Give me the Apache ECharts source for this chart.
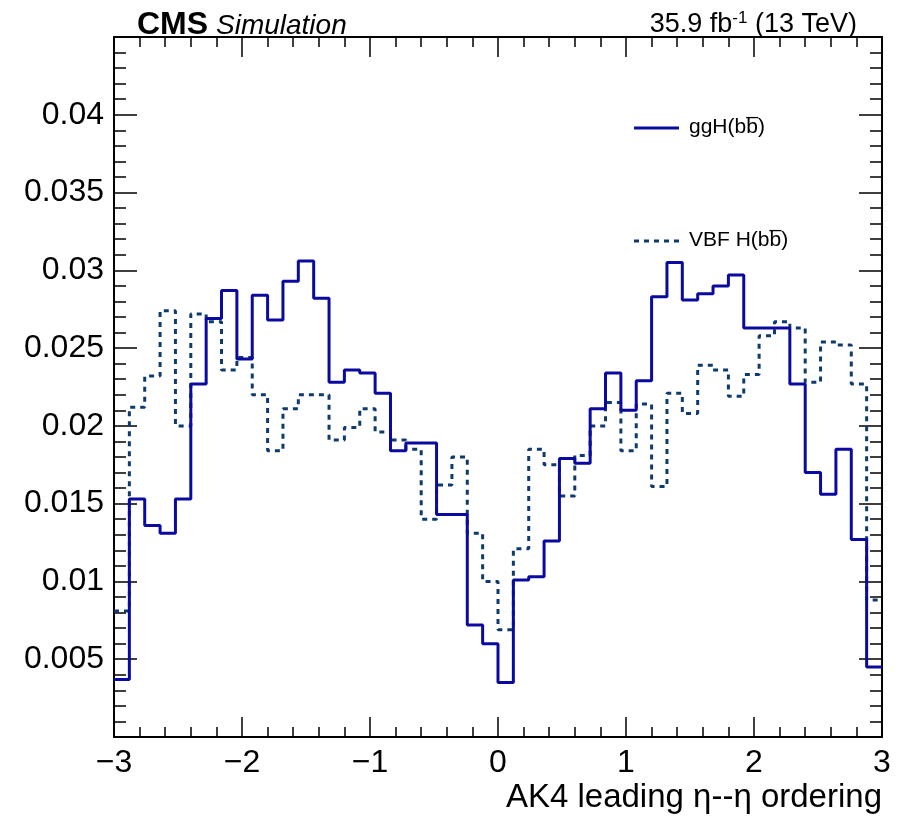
<!DOCTYPE html>
<html>
<head>
<meta charset="utf-8">
<script src="https://cdn.jsdelivr.net/npm/echarts@6/dist/echarts.min.js"></script>
<style>
html,body{margin:0;padding:0;background:#fff;}
#chart{width:902px;height:817px;}
</style>
</head>
<body>
<div id="chart"></div>
<script>
// Bin edges (51 edges, 50 bins)
var binEdges = [-3.00,-2.88,-2.76,-2.64,-2.52,-2.40,-2.28,-2.16,-2.04,-1.92,
  -1.80,-1.68,-1.56,-1.44,-1.32,-1.20,-1.08,-0.96,-0.84,-0.72,
  -0.60,-0.48,-0.36,-0.24,-0.12,0.00,0.12,0.24,0.36,0.48,
  0.60,0.72,0.84,0.96,1.08,1.20,1.32,1.44,1.56,1.68,
  1.80,1.92,2.04,2.16,2.28,2.40,2.52,2.64,2.76,2.88,3.00];

var ggH = [0.0037,0.0153,0.0136,0.0131,0.0153,0.0227,0.0269,0.0287,0.0243,0.0284,
  0.0268,0.0293,0.0306,0.0282,0.0228,0.0236,0.0234,0.0221,0.0184,0.0189,
  0.0189,0.0143,0.0143,0.0072,0.0060,0.0035,0.0101,0.0103,0.0126,0.0179,
  0.0176,0.0211,0.0234,0.0210,0.0229,0.0283,0.0305,0.0281,0.0285,0.0290,
  0.0297,0.0263,0.0263,0.0263,0.0227,0.0170,0.0156,0.0185,0.0127,0.0045];

var vbf = [0.0081,0.0212,0.0232,0.0274,0.0200,0.0272,0.0267,0.0236,0.0244,0.0220,
  0.0184,0.0211,0.0220,0.0220,0.0191,0.0199,0.0211,0.0196,0.0191,0.0185,
  0.0140,0.0162,0.0180,0.0131,0.0100,0.0069,0.0121,0.0185,0.0175,0.0155,
  0.0181,0.0200,0.0215,0.0184,0.0214,0.0161,0.0221,0.0208,0.0239,0.0236,
  0.0219,0.0233,0.0258,0.0267,0.0263,0.0228,0.0254,0.0252,0.0227,0.0088];

var seriesNames = ['ggH(bb\u0305)', 'VBF H(bb\u0305)'];
var xTitle = 'AK4 leading \u03b7--\u03b7 ordering';

function histData(vals){
  var d = [];
  for (var i = 0; i < vals.length; i++) d.push([binEdges[i], vals[i]]);
  d.push([binEdges[vals.length], vals[vals.length-1]]);
  return d;
}

var FONT = '"Liberation Sans", Arial, Helvetica, "DejaVu Sans", sans-serif';
var C_GGH = '#0a0aa0', C_VBF = '#0f3a6e';

var chart = echarts.init(document.getElementById('chart'), null, {renderer:'canvas'});

var xBase = {
  type:'value', min:-3, max:3, interval:1,
  axisLine:{show:true, onZero:false, lineStyle:{color:'#000', width:2}},
  axisTick:{show:true, inside:true, length:20, lineStyle:{color:'#000', width:1.5}},
  minorTick:{show:true, splitNumber:5, length:10, lineStyle:{color:'#000', width:1.5}},
  splitLine:{show:false}, minorSplitLine:{show:false}
};
var yBase = {
  type:'value', min:0, max:0.045, interval:0.005,
  axisLine:{show:true, onZero:false, lineStyle:{color:'#000', width:2}},
  axisTick:{show:true, inside:true, length:23, lineStyle:{color:'#000', width:1.5}},
  minorTick:{show:true, splitNumber:5, length:12, lineStyle:{color:'#000', width:1.5}},
  splitLine:{show:false}, minorSplitLine:{show:false}
};

var option = {
  backgroundColor:'#fff',
  animation:false,
  grid:{left:114, right:20, top:37, bottom:80, containLabel:false},
  xAxis:[
    Object.assign({}, xBase, {
      position:'bottom',
      axisLabel:{show:true, margin:10, color:'#000', fontSize:32, fontFamily:FONT,
        formatter:function(v){ return v < 0 ? '\u2212' + (-v) : String(v); }},
      name:xTitle, nameLocation:'end', nameGap:0,
      nameTextStyle:{fontSize:33, fontFamily:FONT, color:'#000', align:'right', verticalAlign:'top', padding:[44,0,0,0]}
    }),
    Object.assign({}, xBase, {position:'top', axisLabel:{show:false}})
  ],
  yAxis:[
    Object.assign({}, yBase, {
      position:'left',
      axisLabel:{show:true, margin:10, color:'#000', fontSize:32, fontFamily:FONT,
        formatter:function(v){ if (v < 0.001 || v > 0.0445) return ''; return String(+v.toFixed(3)); }}
    }),
    Object.assign({}, yBase, {position:'right', axisLabel:{show:false}})
  ],
  series:[
    {name:seriesNames[1], type:'line', step:'end', symbol:'none', xAxisIndex:0, yAxisIndex:0,
     data:histData(vbf), z:3,
     lineStyle:{color:C_VBF, width:3, type:[5,5]}, itemStyle:{color:C_VBF}},
    {name:seriesNames[0], type:'line', step:'end', symbol:'none', xAxisIndex:0, yAxisIndex:0,
     data:histData(ggH), z:4,
     lineStyle:{color:C_GGH, width:3, type:'solid'}, itemStyle:{color:C_GGH}}
  ],
  graphic:[
    {type:'text', left:137, top:9, style:{text:'CMS', font:'bold 32px ' + FONT, fill:'#000'}},
    {type:'text', left:216, top:12, style:{text:'Simulation', font:'italic 28px ' + FONT, fill:'#000'}},
    {type:'text', right:45, top:10, style:{
      text:'{a|35.9 fb}{s|-1}{a| (13 TeV)}',
      rich:{a:{fontSize:27, fontFamily:FONT, fill:'#000', color:'#000'},
            s:{fontSize:17, fontFamily:FONT, fill:'#000', color:'#000', verticalAlign:'top', padding:[0,0,12,0]}}
    }},
    // legend
    {type:'line', shape:{x1:634, y1:128, x2:679, y2:128}, style:{stroke:C_GGH, lineWidth:3}},
    {type:'text', left:689, top:117, style:{text:seriesNames[0], font:'21px ' + FONT, fill:'#000'}},
    {type:'line', shape:{x1:634, y1:241, x2:679, y2:241}, style:{stroke:C_VBF, lineWidth:3, lineDash:[5,5]}},
    {type:'text', left:689, top:230, style:{text:seriesNames[1], font:'21px ' + FONT, fill:'#000'}}
  ]
};
chart.setOption(option);
</script>
</body>
</html>
